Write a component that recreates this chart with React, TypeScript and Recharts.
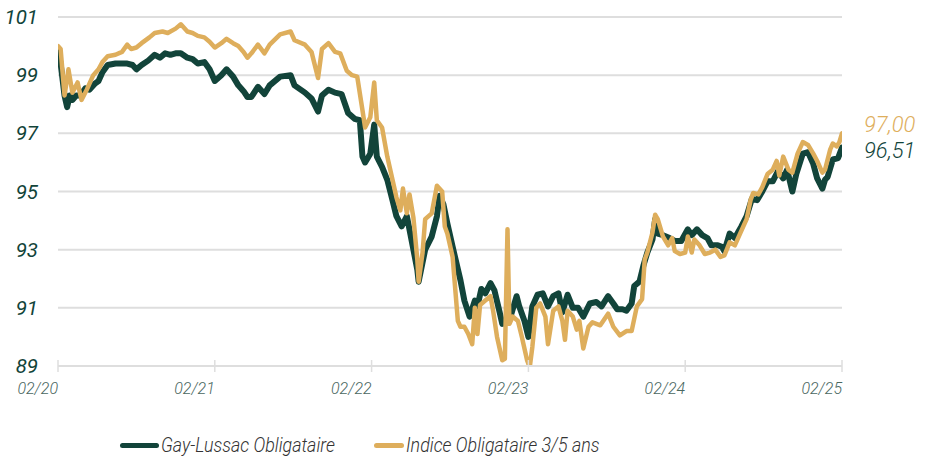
import { LineChart, Line, XAxis, YAxis, CartesianGrid, Legend } from 'recharts';

const tickMonths = [0, 12, 24, 36, 48, 60];
const tickLabels = ['02/20', '02/21', '02/22', '02/23', '02/24', '02/25'];
const yTicks = [89, 91, 93, 95, 97, 99, 101];
const seriesNames = ['Gay-Lussac Obligataire', 'Indice Obligataire 3/5 ans'];
const lastLabels = ['96,51', '97,00'];

// months since 02/2020
const fundMonths = [
  0, 0.2, 0.5, 0.7, 0.9, 1.1, 1.4, 1.7, 2.1, 2.4, 2.8, 3.1, 3.4, 3.8, 4.4, 4.9, 5.3, 5.7, 6.0, 6.4,
  6.9, 7.4, 7.8, 8.2, 8.6, 9.0, 9.4, 9.9, 10.3, 10.7, 11.2, 11.6, 12.0, 12.5, 12.9, 13.4, 13.8, 14.2, 14.5, 14.8,
  15.3, 15.8, 16.2, 17.0, 17.8, 18.1, 18.9, 19.4, 19.9, 20.2, 20.7, 21.2, 21.7, 22.2, 22.7, 23.1, 23.3, 23.5, 23.9, 24.2,
  24.4, 24.8, 25.2, 25.6, 25.9, 26.3, 26.7, 27.2, 27.5, 27.6, 28.1, 28.6, 29.0, 29.2, 29.5, 29.8, 30.2, 30.8, 31.1, 31.5,
  31.9, 32.1, 32.4, 32.7, 33.1, 33.4, 33.8, 34.0, 34.4, 34.7, 35.1, 35.3, 35.7, 36.0, 36.3, 36.7, 37.1, 37.5, 37.9, 38.3,
  38.6, 39.0, 39.4, 39.8, 40.2, 40.7, 41.2, 41.6, 42.1, 42.5, 42.8, 43.2, 43.5, 43.9, 44.1, 44.5, 44.8, 45.1, 45.5, 45.7,
  45.9, 46.3, 46.8, 47.2, 47.7, 48.2, 48.5, 48.9, 49.3, 49.7, 50.0, 50.5, 50.8, 51.0, 51.4, 51.8, 52.3, 52.7, 53.1, 53.5,
  53.9, 54.3, 54.7, 55.1, 55.5, 55.8, 56.2, 56.5, 57.0, 57.4, 57.8, 58.1, 58.5, 58.7, 58.9, 59.3, 59.7, 60.0,
];
const fundValues = [
  99.85, 99.4, 98.3, 97.9, 98.3, 98.15, 98.3, 98.3, 98.55, 98.5, 98.7, 98.8, 99.1, 99.35, 99.4, 99.4, 99.4, 99.35, 99.2, 99.35,
  99.5, 99.7, 99.6, 99.75, 99.7, 99.75, 99.75, 99.6, 99.55, 99.4, 99.45, 99.2, 98.8, 99.0, 99.2, 98.95, 98.65, 98.45, 98.25, 98.25,
  98.6, 98.35, 98.65, 98.95, 99.0, 98.65, 98.4, 98.2, 97.75, 98.3, 98.5, 98.4, 98.35, 97.7, 97.5, 97.45, 96.2, 96.0, 96.3, 97.3,
  96.2, 95.85, 95.4, 94.7, 94.15, 93.8, 94.15, 93.0, 92.3, 91.9, 93.0, 93.45, 94.15, 94.85, 94.55, 93.9, 93.1, 91.95, 91.25, 90.7,
  91.25, 91.05, 91.65, 91.5, 91.85, 91.6, 90.85, 90.45, 90.6, 90.8, 91.4, 91.05, 90.55, 90.0, 91.05, 91.45, 91.5, 91.05, 91.4, 91.5,
  90.85, 91.45, 91.0, 91.0, 90.7, 91.15, 91.2, 91.05, 91.4, 91.15, 90.95, 90.95, 90.9, 91.15, 91.75, 91.9, 92.45, 92.9, 93.35, 94.05,
  93.55, 93.5, 93.4, 93.3, 93.3, 93.7, 93.5, 93.7, 93.5, 93.4, 93.15, 93.15, 93.1, 92.95, 93.55, 93.4, 93.8, 94.15, 94.75, 94.7,
  95.0, 95.35, 95.35, 95.7, 95.45, 95.75, 95.0, 95.6, 96.3, 96.35, 95.95, 95.45, 95.1, 95.4, 95.5, 96.1, 96.15, 96.51,
];

const indexMonths = [
  0, 0.2, 0.5, 0.8, 1.1, 1.5, 1.8, 2.2, 2.7, 3.1, 3.4, 3.8, 4.4, 4.9, 5.3, 5.6, 6.0, 6.4, 7.0, 7.4,
  8.0, 8.4, 9.0, 9.4, 9.9, 10.3, 10.7, 11.2, 11.6, 12.0, 12.5, 12.9, 13.4, 13.8, 14.2, 14.5, 14.8, 15.3, 15.8, 16.2,
  17.0, 17.8, 18.1, 18.9, 19.4, 19.9, 20.2, 20.7, 21.2, 21.6, 22.1, 22.5, 22.9, 23.3, 23.5, 23.9, 24.2, 24.4, 24.8, 25.2,
  25.6, 25.9, 26.2, 26.4, 26.7, 26.9, 27.2, 27.5, 27.6, 27.9, 28.1, 28.6, 29.0, 29.4, 29.6, 29.8, 30.2, 30.6, 30.8, 31.1,
  31.4, 31.7, 31.9, 32.1, 32.3, 32.7, 33.1, 33.3, 33.6, 34.0, 34.2, 34.4, 34.55, 34.8, 35.2, 35.5, 35.9, 36.1, 36.3, 36.6,
  36.9, 37.3, 37.5, 37.9, 38.3, 38.6, 38.8, 39.0, 39.4, 39.7, 39.9, 40.2, 40.6, 40.9, 41.5, 42.1, 42.5, 43.0, 43.5, 43.9,
  44.3, 44.7, 44.9, 45.1, 45.5, 45.7, 45.9, 46.3, 46.7, 47.0, 47.2, 47.6, 48.0, 48.2, 48.5, 48.7, 49.1, 49.5, 49.9, 50.3,
  50.7, 51.0, 51.4, 51.8, 52.2, 52.7, 53.0, 53.2, 53.6, 53.9, 54.3, 54.7, 55.0, 55.2, 55.5, 55.9, 56.2, 56.6, 57.0, 57.4,
  57.8, 58.1, 58.5, 58.7, 59.1, 59.3, 59.6, 59.8, 60.0,
];
const indexValues = [
  100.0, 99.9, 98.3, 99.2, 98.4, 98.75, 98.15, 98.5, 99.0, 99.2, 99.45, 99.65, 99.7, 99.8, 100.05, 99.9, 99.95, 100.1, 100.3, 100.45,
  100.5, 100.45, 100.6, 100.75, 100.5, 100.45, 100.35, 100.3, 100.15, 99.95, 100.1, 100.25, 100.1, 100.0, 99.8, 99.6, 99.75, 100.05, 99.75, 100.05,
  100.4, 100.5, 100.2, 100.05, 99.8, 98.9, 99.9, 100.1, 99.8, 99.75, 99.15, 99.0, 98.95, 97.8, 97.2, 97.55, 98.75, 97.45, 97.2, 96.2,
  95.4, 94.8, 94.35, 95.1, 94.25, 94.9, 94.1, 92.65, 91.9, 92.9, 94.05, 94.25, 95.2, 95.0, 93.8, 93.55, 92.75, 90.55, 90.35, 90.35,
  90.1, 89.75, 91.0, 90.1, 91.1, 91.25, 91.4, 90.9, 90.0, 89.2, 89.25, 93.7, 90.45, 90.7, 90.55, 90.0, 89.2, 88.95, 89.65, 91.0,
  91.15, 90.7, 89.75, 90.9, 91.05, 90.55, 89.9, 90.9, 90.7, 90.25, 90.55, 89.6, 90.35, 90.5, 90.4, 90.8, 90.35, 90.05, 90.2, 90.2,
  91.05, 91.3, 92.65, 92.9, 93.6, 94.2, 94.05, 93.45, 93.15, 93.4, 92.95, 92.85, 92.9, 93.45, 92.9, 93.35, 93.15, 92.85, 92.9, 93.0,
  92.75, 92.8, 93.25, 93.15, 93.55, 94.05, 94.7, 94.95, 94.9, 95.15, 95.6, 95.75, 96.05, 95.55, 96.2, 95.75, 95.65, 96.3, 96.7, 96.6,
  96.3, 96.05, 95.65, 95.75, 96.45, 96.65, 96.55, 96.7, 97.0,
];

const GREEN = '#12443a';
const GOLD = '#deae5c';
const GRID = '#dedede';
const FONT = 'Roboto, "Noto Sans", sans-serif';

const fundData = fundMonths.map((m, i) => ({ m, v: fundValues[i] }));
const indexData = indexMonths.map((m, i) => ({ m, v: indexValues[i] }));

function YTick({ x, y, payload }: any) {
  return (
    <text x={x} y={y} textAnchor="end" dominantBaseline="central" fill={GREEN}
      fontSize={20.5} fontStyle="italic" fontFamily={FONT}>
      {payload.value}
    </text>
  );
}

function XTick({ x, y, payload }: any) {
  const label = tickLabels[tickMonths.indexOf(payload.value)];
  return (
    <g>
      <line x1={x} x2={x} y1={y - 6} y2={y + 6} stroke={GRID} strokeWidth={1.5} />
      <text x={x} y={y + 28} textAnchor="end" fill="#4a675f" fontSize={16}
        fontStyle="italic" fontWeight={300} fontFamily={FONT}>
        {label}
      </text>
    </g>
  );
}

function endLabel(color: string, text: string, dy: number, last: number) {
  return (p: any) => {
    if (p.index !== last) return null;
    return (
      <text x={p.x + 22} y={p.y + dy} dominantBaseline="central" fill={color}
        fontSize={22} fontStyle="italic" fontWeight={300} fontFamily={FONT}>
        {text}
      </text>
    );
  };
}

function LegendContent() {
  const items = [
    { name: seriesNames[0], color: GREEN, width: 254 },
    { name: seriesNames[1], color: GOLD, width: 260 },
  ];
  return (
    <div style={{ display: 'flex', alignItems: 'center', height: 30, paddingLeft: 120 }}>
      {items.map((it) => (
        <div key={it.name} style={{ display: 'flex', alignItems: 'center', width: it.width, whiteSpace: 'nowrap' }}>
          <span style={{ display: 'inline-block', width: 39, height: 5, borderRadius: 3, background: it.color }} />
          <span style={{
            display: 'inline-block', fontFamily: FONT, fontStyle: 'italic', fontWeight: 300, fontSize: 21,
            color: '#333', marginLeft: 2, transform: 'scaleX(0.85)', transformOrigin: 'left center',
          }}>
            {it.name}
          </span>
        </div>
      ))}
    </div>
  );
}

export default function App() {
  return (
    <div style={{ position: 'absolute', left: 0, top: 0, background: '#fff' }}>
      <LineChart width={928} height={458} margin={{ top: 17, right: 86, bottom: 26, left: 0 }}>
        <CartesianGrid vertical={false} stroke={GRID} strokeWidth={2} />
        <XAxis type="number" dataKey="m" domain={[0, 60]} ticks={tickMonths} allowDataOverflow
          height={36} tickSize={0} tickMargin={0} tickLine={false}
          axisLine={{ stroke: GRID, strokeWidth: 2 }} tick={<XTick />} interval={0} />
        <YAxis type="number" domain={[89, 101]} ticks={yTicks} width={58} allowDataOverflow
          axisLine={false} tickLine={false} tickSize={0} tickMargin={20} tick={<YTick />} interval={0} />
        <Legend verticalAlign="bottom" wrapperStyle={{ left: 0, bottom: -2, width: 928 }} content={<LegendContent />} />
        <Line data={fundData} dataKey="v" name={seriesNames[0]} type="linear" stroke={GREEN} strokeWidth={6}
          dot={false} isAnimationActive={false} strokeLinejoin="round" strokeLinecap="round"
          label={endLabel(GREEN, lastLabels[0], 3, fundData.length - 1)} />
        <Line data={indexData} dataKey="v" name={seriesNames[1]} type="linear" stroke={GOLD} strokeWidth={4.5}
          dot={false} isAnimationActive={false} strokeLinejoin="round" strokeLinecap="round"
          label={endLabel(GOLD, lastLabels[1], -9, indexData.length - 1)} />
      </LineChart>
    </div>
  );
}
